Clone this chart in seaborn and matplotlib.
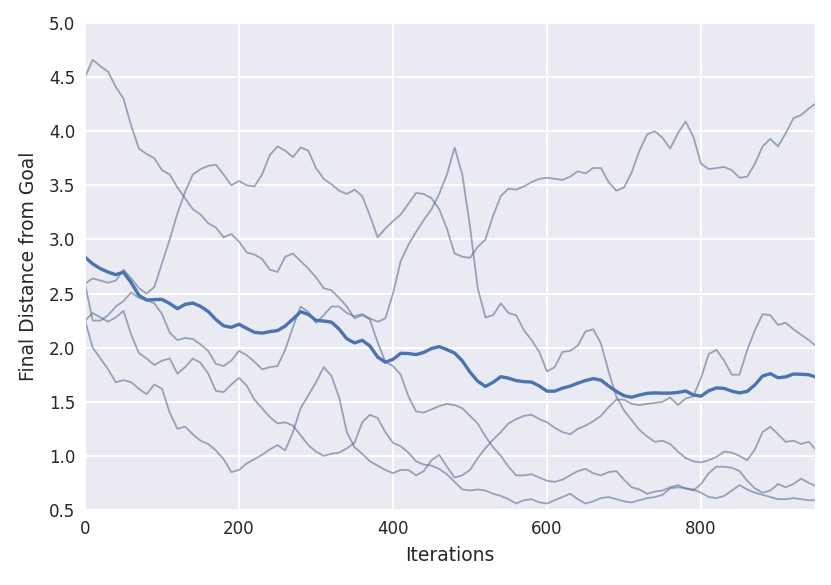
import numpy as np
import pandas as pd
import matplotlib

matplotlib.use("Agg")
import matplotlib.pyplot as plt
import seaborn as sns


iterations = list(range(0, 960, 10))

# Five independent runs, final distance from goal at each iteration
run_1 = [4.50, 4.66, 4.60, 4.55, 4.41, 4.30, 4.05, 3.84, 3.79, 3.75,
         3.64, 3.60, 3.48, 3.38, 3.28, 3.23, 3.15, 3.11, 3.02, 3.05,
         2.98, 2.88, 2.86, 2.82, 2.72, 2.70, 2.84, 2.87, 2.80, 2.73,
         2.65, 2.55, 2.53, 2.46, 2.38, 2.27, 2.30, 2.26, 2.05, 1.87,
         1.83, 1.75, 1.55, 1.41, 1.40, 1.43, 1.46, 1.48, 1.47, 1.44,
         1.37, 1.30, 1.18, 1.08, 1.00, 0.90, 0.82, 0.82, 0.83, 0.80,
         0.77, 0.76, 0.78, 0.82, 0.86, 0.88, 0.84, 0.82, 0.85, 0.86,
         0.78, 0.71, 0.69, 0.65, 0.67, 0.68, 0.71, 0.73, 0.70, 0.68,
         0.74, 0.84, 0.90, 0.90, 0.89, 0.86, 0.77, 0.70, 0.66, 0.68,
         0.74, 0.71, 0.74, 0.79, 0.75, 0.72]
run_2 = [2.59, 2.64, 2.62, 2.60, 2.62, 2.72, 2.64, 2.55, 2.50, 2.56,
         2.78, 3.00, 3.24, 3.44, 3.60, 3.65, 3.68, 3.69, 3.60, 3.50,
         3.54, 3.50, 3.49, 3.60, 3.78, 3.86, 3.82, 3.76, 3.85, 3.82,
         3.66, 3.56, 3.51, 3.45, 3.42, 3.46, 3.40, 3.22, 3.02, 3.10,
         3.17, 3.23, 3.33, 3.43, 3.42, 3.38, 3.28, 3.10, 2.87, 2.84,
         2.83, 2.93, 3.00, 3.22, 3.40, 3.47, 3.46, 3.49, 3.53, 3.56,
         3.57, 3.56, 3.55, 3.58, 3.63, 3.61, 3.66, 3.66, 3.53, 3.45,
         3.48, 3.62, 3.82, 3.97, 4.00, 3.94, 3.84, 3.98, 4.09, 3.95,
         3.70, 3.65, 3.66, 3.67, 3.64, 3.57, 3.58, 3.70, 3.86, 3.93,
         3.86, 3.98, 4.12, 4.15, 4.21, 4.26]
run_3 = [2.59, 2.25, 2.25, 2.30, 2.38, 2.43, 2.51, 2.46, 2.44, 2.41,
         2.31, 2.14, 2.07, 2.09, 2.08, 2.03, 1.97, 1.85, 1.83, 1.88,
         1.97, 1.93, 1.87, 1.80, 1.82, 1.83, 1.98, 2.19, 2.38, 2.33,
         2.23, 2.30, 2.38, 2.38, 2.32, 2.29, 2.31, 2.27, 2.24, 2.27,
         2.50, 2.80, 2.95, 3.07, 3.18, 3.28, 3.42, 3.60, 3.85, 3.60,
         3.12, 2.55, 2.28, 2.30, 2.41, 2.32, 2.30, 2.16, 2.07, 1.96,
         1.78, 1.82, 1.96, 1.97, 2.02, 2.15, 2.17, 2.04, 1.78, 1.55,
         1.42, 1.33, 1.24, 1.18, 1.13, 1.14, 1.11, 1.04, 0.98, 0.95,
         0.94, 0.96, 0.99, 1.04, 1.03, 1.00, 0.96, 1.06, 1.22, 1.27,
         1.20, 1.13, 1.14, 1.11, 1.13, 1.05]
run_4 = [2.25, 2.32, 2.28, 2.24, 2.28, 2.34, 2.12, 1.95, 1.90, 1.84,
         1.88, 1.90, 1.76, 1.82, 1.90, 1.86, 1.76, 1.60, 1.59, 1.66,
         1.72, 1.65, 1.52, 1.44, 1.36, 1.30, 1.31, 1.28, 1.19, 1.10,
         1.04, 1.00, 1.02, 1.03, 1.07, 1.12, 1.31, 1.38, 1.35, 1.22,
         1.12, 1.09, 1.03, 0.95, 0.92, 0.91, 0.88, 0.83, 0.76, 0.69,
         0.68, 0.69, 0.68, 0.65, 0.63, 0.60, 0.56, 0.59, 0.60, 0.57,
         0.56, 0.59, 0.62, 0.65, 0.60, 0.56, 0.58, 0.61, 0.62, 0.60,
         0.58, 0.57, 0.59, 0.61, 0.62, 0.64, 0.70, 0.71, 0.70, 0.69,
         0.66, 0.62, 0.61, 0.63, 0.68, 0.73, 0.69, 0.66, 0.64, 0.62,
         0.60, 0.60, 0.61, 0.60, 0.59, 0.59]
run_5 = [2.25, 2.00, 1.90, 1.80, 1.68, 1.70, 1.68, 1.62, 1.57, 1.66,
         1.62, 1.40, 1.25, 1.27, 1.20, 1.14, 1.11, 1.05, 0.97, 0.85,
         0.87, 0.93, 0.97, 1.01, 1.06, 1.10, 1.05, 1.22, 1.44, 1.56,
         1.68, 1.82, 1.74, 1.54, 1.22, 1.08, 1.02, 0.95, 0.91, 0.87,
         0.84, 0.87, 0.87, 0.82, 0.86, 0.96, 1.01, 0.90, 0.80, 0.82,
         0.87, 0.98, 1.07, 1.15, 1.22, 1.30, 1.34, 1.37, 1.38, 1.34,
         1.31, 1.26, 1.22, 1.20, 1.25, 1.28, 1.32, 1.37, 1.45, 1.52,
         1.52, 1.48, 1.47, 1.48, 1.49, 1.50, 1.54, 1.47, 1.53, 1.55,
         1.72, 1.94, 1.98, 1.88, 1.75, 1.75, 1.98, 2.16, 2.31, 2.30,
         2.21, 2.23, 2.17, 2.12, 2.07, 2.01]

runs = [run_1, run_2, run_3, run_4, run_5]

# Long format table for seaborn
df = pd.DataFrame(
    {
        "Iterations": np.tile(iterations, len(runs)),
        "Final Distance from Goal": np.concatenate(runs),
        "run": np.repeat(np.arange(len(runs)), len(iterations)),
    }
)

sns.set_style("darkgrid")
color = sns.color_palette("deep")[0]

fig = plt.figure(figsize=(8.31, 5.85), dpi=100)
ax = fig.add_axes([0.1023, 0.1282, 0.8784, 0.8325])

# individual traces
sns.lineplot(
    data=df,
    x="Iterations",
    y="Final Distance from Goal",
    units="run",
    estimator=None,
    color="#5a7193",
    alpha=0.6,
    linewidth=1.3,
    ax=ax,
)
# mean over runs
sns.lineplot(
    data=df,
    x="Iterations",
    y="Final Distance from Goal",
    errorbar=None,
    color=color,
    linewidth=2.4,
    ax=ax,
)

ax.set_xlim(0, 948)
ax.set_ylim(0.5, 5.0)
ax.set_xticks([0, 200, 400, 600, 800])
ax.set_yticks(np.arange(0.5, 5.01, 0.5))
ax.set_yticklabels([f"{v:.1f}" for v in np.arange(0.5, 5.01, 0.5)])
ax.tick_params(labelsize=12, length=0, pad=7)
ax.set_xlabel("Iterations", fontsize=13.5, labelpad=6)
ax.set_ylabel("Final Distance from Goal", fontsize=13.5, labelpad=8)
for line in ax.get_ygridlines() + ax.get_xgridlines():
    line.set_linewidth(1.4)

fig.savefig("out.png", dpi=100)
